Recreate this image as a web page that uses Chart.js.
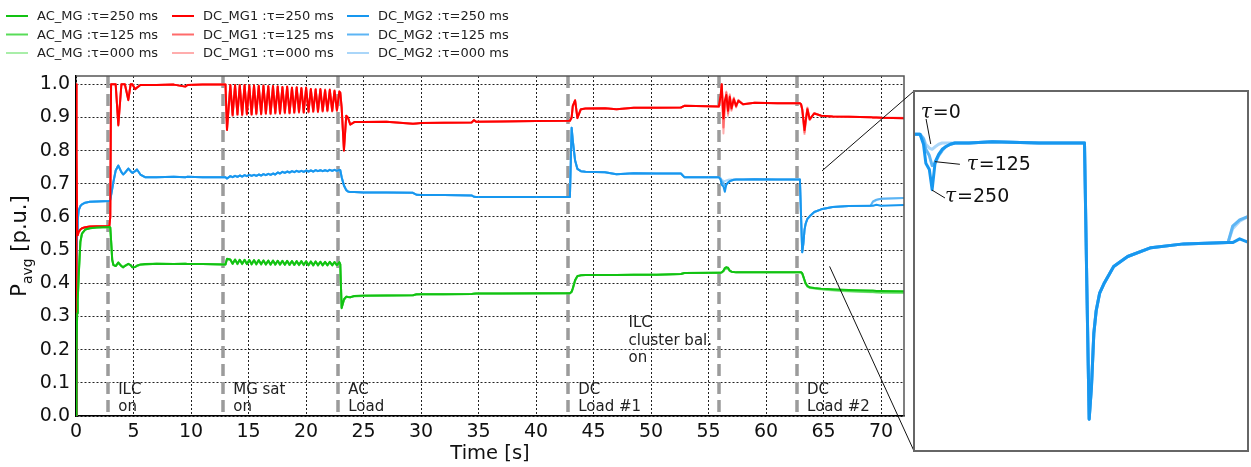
<!DOCTYPE html>
<html>
<head>
<meta charset="utf-8">
<script src="https://cdn.jsdelivr.net/npm/chart.js@4.4.1/dist/chart.umd.min.js"></script>
<style>
  html, body { margin: 0; padding: 0; background: #fff; }
  #wrap { position: relative; width: 1251px; height: 467px; overflow: hidden; background: #fff; }
  #main { position: absolute; left: 0; top: 0; width: 1251px; height: 467px; }
  #inset { position: absolute; left: 913px; top: 90px; width: 336px; height: 362px; }
</style>
</head>
<body>
<div id="wrap">
  <canvas id="main" width="1251" height="467"></canvas>
  <canvas id="inset" width="336" height="362"></canvas>
</div>
<script>
// ---- time base [s] shared by every trace ----
const TIME = [
  0, 0.03, 0.06, 0.1, 0.15, 0.23, 0.38, 0.52, 0.8, 1.2, 1.8, 2.9,
  2.98, 3.05, 3.15, 3.25, 3.45, 3.68, 3.95, 4.1, 4.25, 4.55, 4.75, 4.9, 5.15, 5.3, 5.6, 6.0,
  7, 8.5, 9.5, 9.7, 11, 12.9,
  13.0, 13.13,
  13.42, 13.62, 13.83, 14.04, 14.24, 14.45, 14.66, 14.86, 15.07, 15.27,
  15.48, 15.68, 15.89, 16.10, 16.30, 16.51, 16.72, 16.92, 17.13, 17.33,
  17.54, 17.74, 17.95, 18.16, 18.36, 18.57, 18.78, 18.98, 19.19, 19.39,
  19.60, 19.80, 20.01, 20.22, 20.42, 20.63, 20.84, 21.04, 21.25, 21.45,
  21.66, 21.86, 22.07, 22.28, 22.48, 22.69, 22.90,
  22.98, 23.1, 23.3, 23.5, 23.65, 23.85, 24.2, 25, 27, 29.3, 29.6, 30, 32, 34.4, 34.6, 34.8, 37, 40, 42.95,
  43.1, 43.2, 43.4, 43.6, 43.9, 44.3, 46, 47, 48.5, 50.5, 52.6, 52.9, 55.9,
  56.05, 56.15, 56.3, 56.42, 56.55, 56.7, 56.85, 57.0, 57.2, 57.4, 57.6, 58, 59, 61, 62.95,
  63.05, 63.15, 63.25, 63.35, 63.45, 63.6, 63.8, 64.2, 64.8, 65.8, 67.2, 69.1, 69.3, 69.6, 70, 72
];

// ---- AC_MG average power [p.u.] ----
const AC_250 = [
  0, 0.05, 0.2, 0.31, 0.35, 0.42, 0.525, 0.55, 0.562, 0.566, 0.568, 0.57,
  0.568, 0.53, 0.47, 0.455, 0.452, 0.463, 0.452, 0.448, 0.452, 0.459, 0.455, 0.448, 0.449, 0.453, 0.457, 0.458,
  0.459, 0.458, 0.459, 0.458, 0.458, 0.457,
  0.457, 0.474,
  0.472, 0.459, 0.472, 0.459, 0.471, 0.459, 0.471, 0.458, 0.470, 0.458,
  0.470, 0.458, 0.470, 0.458, 0.469, 0.457, 0.469, 0.457, 0.469, 0.457,
  0.468, 0.457, 0.468, 0.456, 0.468, 0.456, 0.467, 0.456, 0.467, 0.456,
  0.467, 0.456, 0.466, 0.455, 0.466, 0.455, 0.466, 0.455, 0.465, 0.455,
  0.465, 0.455, 0.465, 0.455, 0.464, 0.455, 0.464,
  0.458, 0.325, 0.352, 0.36, 0.359, 0.358, 0.362, 0.363, 0.363, 0.364, 0.367, 0.367, 0.367, 0.368, 0.369, 0.369, 0.369, 0.37, 0.37,
  0.375, 0.385, 0.41, 0.422, 0.424, 0.425, 0.425, 0.425, 0.426, 0.426, 0.428, 0.431, 0.432,
  0.432, 0.433, 0.438, 0.446, 0.449, 0.447, 0.438, 0.435, 0.434, 0.433, 0.433, 0.433, 0.433, 0.433, 0.433,
  0.433, 0.43, 0.42, 0.41, 0.40, 0.392, 0.388, 0.386, 0.384, 0.382, 0.38, 0.378, 0.378, 0.377, 0.377, 0.376
];
const AC_125 = [
  0, 0.05, 0.2, 0.31, 0.35, 0.42, 0.525, 0.55, 0.562, 0.566, 0.568, 0.57,
  0.568, 0.53, 0.472, 0.456, 0.452, 0.461, 0.452, 0.449, 0.453, 0.458, 0.455, 0.449, 0.449, 0.453, 0.456, 0.457,
  0.459, 0.458, 0.459, 0.458, 0.458, 0.457,
  0.457, 0.473,
  0.471, 0.459, 0.471, 0.458, 0.471, 0.458, 0.470, 0.458, 0.470, 0.457,
  0.469, 0.457, 0.469, 0.457, 0.469, 0.457, 0.468, 0.456, 0.468, 0.456,
  0.468, 0.456, 0.467, 0.456, 0.467, 0.455, 0.467, 0.455, 0.466, 0.455,
  0.466, 0.455, 0.466, 0.455, 0.465, 0.454, 0.465, 0.454, 0.465, 0.454,
  0.464, 0.454, 0.464, 0.454, 0.464, 0.454, 0.463,
  0.457, 0.327, 0.35, 0.359, 0.359, 0.358, 0.361, 0.362, 0.363, 0.364, 0.366, 0.367, 0.367, 0.368, 0.368, 0.369, 0.369, 0.369, 0.37,
  0.374, 0.384, 0.408, 0.421, 0.424, 0.425, 0.425, 0.425, 0.426, 0.426, 0.428, 0.431, 0.432,
  0.432, 0.433, 0.437, 0.444, 0.446, 0.445, 0.438, 0.435, 0.434, 0.433, 0.433, 0.433, 0.433, 0.433, 0.433,
  0.433, 0.43, 0.42, 0.409, 0.399, 0.391, 0.387, 0.385, 0.383, 0.38, 0.377, 0.374, 0.374, 0.373, 0.372, 0.372
];
const AC_000 = [
  0, 0.05, 0.2, 0.31, 0.35, 0.42, 0.525, 0.55, 0.562, 0.566, 0.568, 0.57,
  0.568, 0.53, 0.472, 0.456, 0.452, 0.461, 0.452, 0.449, 0.453, 0.458, 0.455, 0.449, 0.449, 0.453, 0.456, 0.457,
  0.459, 0.458, 0.459, 0.458, 0.458, 0.457,
  0.457, 0.473,
  0.471, 0.459, 0.471, 0.458, 0.471, 0.458, 0.470, 0.458, 0.470, 0.457,
  0.469, 0.457, 0.469, 0.457, 0.469, 0.457, 0.468, 0.456, 0.468, 0.456,
  0.468, 0.456, 0.467, 0.456, 0.467, 0.455, 0.467, 0.455, 0.466, 0.455,
  0.466, 0.455, 0.466, 0.455, 0.465, 0.454, 0.465, 0.454, 0.465, 0.454,
  0.464, 0.454, 0.464, 0.454, 0.464, 0.454, 0.463,
  0.457, 0.327, 0.35, 0.359, 0.359, 0.358, 0.361, 0.362, 0.363, 0.364, 0.366, 0.367, 0.367, 0.368, 0.368, 0.369, 0.369, 0.369, 0.37,
  0.374, 0.384, 0.408, 0.421, 0.424, 0.425, 0.425, 0.425, 0.426, 0.426, 0.428, 0.431, 0.432,
  0.432, 0.433, 0.436, 0.442, 0.444, 0.443, 0.437, 0.435, 0.434, 0.433, 0.433, 0.433, 0.433, 0.433, 0.433,
  0.433, 0.43, 0.419, 0.408, 0.398, 0.39, 0.386, 0.384, 0.381, 0.378, 0.375, 0.373, 0.373, 0.372, 0.372, 0.371
];

// ---- DC_MG1 average power [p.u.] ----
const DC1_250 = [
  0, 1.0, 0.8, 0.55, 0.545, 0.555, 0.562, 0.566, 0.569, 0.571, 0.572, 0.572,
  0.60, 1.0, 1.0, 1.0, 1.0, 0.876, 1.0, 1.0, 1.0, 0.952, 1.0, 1.0, 0.985, 0.99, 0.998, 0.998,
  0.998, 0.999, 0.993, 0.998, 0.999, 0.999,
  0.999, 0.862,
  0.998, 0.908, 0.998, 0.910, 0.997, 0.909, 0.998, 0.911, 0.996, 0.910,
  0.997, 0.912, 0.995, 0.911, 0.996, 0.913, 0.994, 0.912, 0.995, 0.914,
  0.993, 0.913, 0.992, 0.915, 0.993, 0.914, 0.990, 0.916, 0.991, 0.917,
  0.989, 0.916, 0.990, 0.918, 0.986, 0.919, 0.984, 0.918, 0.986, 0.920,
  0.982, 0.921, 0.984, 0.920, 0.980, 0.922, 0.978,
  0.975, 0.93, 0.80, 0.905, 0.90, 0.878, 0.886, 0.886, 0.887, 0.881, 0.882, 0.883, 0.884, 0.885, 0.892, 0.887, 0.888, 0.889, 0.89,
  0.90, 0.935, 0.952, 0.898, 0.925, 0.927, 0.928, 0.925, 0.929, 0.929, 0.93, 0.935, 0.933,
  0.965, 1.0, 0.897, 0.95, 0.968, 0.92, 0.962, 0.928, 0.955, 0.935, 0.95, 0.94, 0.944, 0.943, 0.943,
  0.94, 0.925, 0.895, 0.862, 0.89, 0.925, 0.895, 0.912, 0.905, 0.903, 0.902, 0.901, 0.9, 0.9, 0.899, 0.898
];
const DC1_125 = [
  0, 1.0, 0.8, 0.55, 0.545, 0.555, 0.562, 0.566, 0.569, 0.571, 0.572, 0.572,
  0.60, 1.0, 1.0, 1.0, 1.0, 0.88, 1.0, 1.0, 1.0, 0.955, 1.0, 1.0, 0.986, 0.99, 0.998, 0.998,
  0.998, 0.999, 0.993, 0.998, 0.999, 0.999,
  0.999, 0.865,
  0.997, 0.905, 0.996, 0.908, 0.998, 0.906, 0.996, 0.909, 0.997, 0.908,
  0.995, 0.910, 0.996, 0.909, 0.994, 0.911, 0.995, 0.910, 0.993, 0.912,
  0.994, 0.911, 0.991, 0.913, 0.992, 0.912, 0.989, 0.914, 0.990, 0.915,
  0.987, 0.914, 0.988, 0.916, 0.985, 0.917, 0.986, 0.916, 0.983, 0.918,
  0.984, 0.919, 0.981, 0.918, 0.982, 0.920, 0.979,
  0.975, 0.93, 0.805, 0.905, 0.898, 0.88, 0.886, 0.886, 0.887, 0.881, 0.882, 0.883, 0.884, 0.885, 0.891, 0.887, 0.888, 0.889, 0.89,
  0.90, 0.935, 0.95, 0.90, 0.924, 0.927, 0.928, 0.925, 0.929, 0.929, 0.93, 0.935, 0.933,
  0.96, 1.0, 0.87, 0.94, 0.975, 0.912, 0.966, 0.924, 0.958, 0.932, 0.952, 0.94, 0.944, 0.943, 0.943,
  0.94, 0.925, 0.89, 0.855, 0.885, 0.928, 0.893, 0.913, 0.905, 0.903, 0.902, 0.901, 0.9, 0.9, 0.899, 0.898
];
const DC1_000 = [
  0, 1.0, 0.8, 0.55, 0.545, 0.555, 0.562, 0.566, 0.569, 0.571, 0.572, 0.572,
  0.60, 1.0, 1.0, 1.0, 1.0, 0.878, 1.0, 1.0, 1.0, 0.954, 1.0, 1.0, 0.986, 0.99, 0.998, 0.998,
  0.998, 0.999, 0.993, 0.998, 0.999, 0.999,
  0.999, 0.864,
  0.998, 0.906, 0.997, 0.907, 0.996, 0.908, 0.997, 0.908, 0.995, 0.909,
  0.996, 0.909, 0.994, 0.910, 0.995, 0.910, 0.993, 0.911, 0.994, 0.911,
  0.992, 0.912, 0.991, 0.912, 0.992, 0.913, 0.989, 0.913, 0.990, 0.914,
  0.988, 0.915, 0.988, 0.915, 0.985, 0.916, 0.984, 0.917, 0.984, 0.917,
  0.981, 0.918, 0.982, 0.919, 0.979, 0.919, 0.977,
  0.975, 0.93, 0.803, 0.905, 0.899, 0.879, 0.886, 0.886, 0.887, 0.881, 0.882, 0.883, 0.884, 0.885, 0.891, 0.887, 0.888, 0.889, 0.89,
  0.90, 0.935, 0.951, 0.899, 0.925, 0.927, 0.928, 0.925, 0.929, 0.929, 0.93, 0.935, 0.933,
  0.955, 0.995, 0.852, 0.93, 0.978, 0.905, 0.97, 0.92, 0.96, 0.93, 0.953, 0.939, 0.944, 0.943, 0.943,
  0.94, 0.922, 0.885, 0.85, 0.888, 0.93, 0.892, 0.913, 0.905, 0.903, 0.902, 0.901, 0.9, 0.9, 0.9, 0.899
];

// ---- DC_MG2 average power [p.u.] ----
const DC2_250 = [
  0, 0.2, 0.45, 0.56, 0.59, 0.62, 0.633, 0.638, 0.643, 0.646, 0.647, 0.648,
  0.652, 0.665, 0.685, 0.705, 0.74, 0.755, 0.735, 0.728, 0.733, 0.746, 0.738, 0.733, 0.738, 0.743, 0.728, 0.72,
  0.72, 0.721, 0.72, 0.721, 0.72, 0.72,
  0.72, 0.716,
  0.723, 0.720, 0.724, 0.721, 0.725, 0.722, 0.726, 0.723, 0.727, 0.724,
  0.727, 0.724, 0.728, 0.725, 0.729, 0.726, 0.730, 0.727, 0.731, 0.728,
  0.734, 0.731, 0.736, 0.733, 0.737, 0.734, 0.738, 0.735, 0.739, 0.736,
  0.739, 0.736, 0.740, 0.737, 0.740, 0.737, 0.741, 0.738, 0.741, 0.738,
  0.741, 0.738, 0.742, 0.739, 0.742, 0.739, 0.742,
  0.741, 0.72, 0.695, 0.681, 0.677, 0.675, 0.675, 0.674, 0.674, 0.673, 0.667, 0.666, 0.666, 0.665, 0.661, 0.66, 0.66, 0.66, 0.66,
  0.869, 0.83, 0.77, 0.745, 0.738, 0.736, 0.735, 0.729, 0.732, 0.731, 0.731, 0.72, 0.72,
  0.712, 0.697, 0.692, 0.676, 0.698, 0.704, 0.708, 0.71, 0.712, 0.713, 0.713, 0.713, 0.714, 0.713, 0.713,
  0.60, 0.494, 0.52, 0.562, 0.58, 0.594, 0.602, 0.615, 0.623, 0.63, 0.633, 0.634, 0.634, 0.637, 0.634, 0.636
];
const DC2_125 = [
  0, 0.2, 0.45, 0.56, 0.59, 0.62, 0.633, 0.638, 0.643, 0.646, 0.647, 0.648,
  0.652, 0.665, 0.685, 0.705, 0.74, 0.755, 0.735, 0.728, 0.733, 0.746, 0.738, 0.733, 0.738, 0.743, 0.728, 0.72,
  0.72, 0.721, 0.72, 0.721, 0.72, 0.72,
  0.72, 0.716,
  0.723, 0.720, 0.724, 0.721, 0.725, 0.722, 0.726, 0.723, 0.727, 0.724,
  0.727, 0.724, 0.728, 0.725, 0.729, 0.726, 0.730, 0.727, 0.731, 0.728,
  0.734, 0.731, 0.736, 0.733, 0.737, 0.734, 0.738, 0.735, 0.739, 0.736,
  0.739, 0.736, 0.740, 0.737, 0.740, 0.737, 0.741, 0.738, 0.741, 0.738,
  0.741, 0.738, 0.742, 0.739, 0.742, 0.739, 0.742,
  0.741, 0.72, 0.695, 0.681, 0.677, 0.675, 0.675, 0.674, 0.674, 0.673, 0.667, 0.666, 0.666, 0.665, 0.661, 0.66, 0.66, 0.66, 0.66,
  0.869, 0.83, 0.77, 0.745, 0.738, 0.736, 0.735, 0.729, 0.732, 0.731, 0.731, 0.72, 0.72,
  0.716, 0.708, 0.703, 0.695, 0.697, 0.703, 0.707, 0.71, 0.712, 0.713, 0.713, 0.713, 0.714, 0.713, 0.713,
  0.60, 0.494, 0.52, 0.562, 0.58, 0.594, 0.602, 0.615, 0.623, 0.63, 0.633, 0.634, 0.647, 0.652, 0.655, 0.657
];
const DC2_000 = [
  0, 0.2, 0.45, 0.56, 0.59, 0.62, 0.633, 0.638, 0.643, 0.646, 0.647, 0.648,
  0.652, 0.665, 0.685, 0.705, 0.74, 0.755, 0.735, 0.728, 0.733, 0.746, 0.738, 0.733, 0.738, 0.743, 0.728, 0.72,
  0.72, 0.721, 0.72, 0.721, 0.72, 0.72,
  0.72, 0.716,
  0.723, 0.720, 0.724, 0.721, 0.725, 0.722, 0.726, 0.723, 0.727, 0.724,
  0.727, 0.724, 0.728, 0.725, 0.729, 0.726, 0.730, 0.727, 0.731, 0.728,
  0.734, 0.731, 0.736, 0.733, 0.737, 0.734, 0.738, 0.735, 0.739, 0.736,
  0.739, 0.736, 0.740, 0.737, 0.740, 0.737, 0.741, 0.738, 0.741, 0.738,
  0.741, 0.738, 0.742, 0.739, 0.742, 0.739, 0.742,
  0.741, 0.72, 0.695, 0.681, 0.677, 0.675, 0.675, 0.674, 0.674, 0.673, 0.667, 0.666, 0.666, 0.665, 0.661, 0.66, 0.66, 0.66, 0.66,
  0.869, 0.83, 0.77, 0.745, 0.738, 0.736, 0.735, 0.729, 0.732, 0.731, 0.731, 0.72, 0.72,
  0.717, 0.712, 0.709, 0.708, 0.71, 0.712, 0.713, 0.713, 0.713, 0.713, 0.713, 0.713, 0.714, 0.713, 0.713,
  0.60, 0.494, 0.52, 0.562, 0.58, 0.594, 0.602, 0.615, 0.623, 0.63, 0.633, 0.634, 0.645, 0.651, 0.655, 0.657
];

// ---- axes, events, labels ----
const X_TICKS = [0, 5, 10, 15, 20, 25, 30, 35, 40, 45, 50, 55, 60, 65, 70];
const Y_TICKS = [0, 0.1, 0.2, 0.3, 0.4, 0.5, 0.6, 0.7, 0.8, 0.9, 1.0];
const EVENT_TIMES = [2.8, 12.8, 22.8, 42.8, 55.9, 62.7];
const EVENT_NOTES = [
  { t: 2.8,  lines: ['ILC', 'on'] },
  { t: 12.8, lines: ['MG sat', 'on'] },
  { t: 22.8, lines: ['AC', 'Load'] },
  { t: 42.8, lines: ['DC', 'Load #1'] },
  { t: 62.7, lines: ['DC', 'Load #2'] }
];
const FREE_NOTE = { t: 48.05, v: 0.267, lines: ['ILC', 'cluster bal.', 'on'] };
const MG_NAMES = ['AC_MG', 'DC_MG1', 'DC_MG2'];
const TAU_TAGS = ['250', '125', '000'];
const ZOOM_SOURCE = [[64.87, 0.739], [65.53, 0.451]];
const TAU_NOTES = [
  { tag: '0',   at: [55.93, 0.7368], from: [56.16, 0.732],  to: [56.36, 0.7122] },
  { tag: '125', at: [57.90, 0.6955], from: [57.61, 0.6961], to: [56.54, 0.6982] },
  { tag: '250', at: [56.97, 0.6704], from: [56.97, 0.6694], to: [56.41, 0.6757] }
];

const SERIES_VALUES = [[AC_250, AC_125, AC_000], [DC1_250, DC1_125, DC1_000], [DC2_250, DC2_125, DC2_000]];
const PALETTE = [
  ['#12c212', '#58dc58', '#a9eea9'],
  ['#ff0000', '#ff6b6b', '#ffadad'],
  ['#1797ef', '#5db5f4', '#aad6f9']
];
const FONT = '"DejaVu Sans", Verdana, sans-serif';

function points(values) {
  return TIME.map((t, i) => ({ x: t, y: values[i] }));
}

function buildDatasets(mgList, width) {
  const out = [];
  for (let k = 0; k < TAU_TAGS.length; k++) {
    for (const m of mgList) {
      out.push({
        label: MG_NAMES[m] + ' :\u03c4=' + TAU_TAGS[k] + ' ms',
        mg: m, tau: k,
        data: points(SERIES_VALUES[m][k]),
        borderColor: PALETTE[m][k],
        backgroundColor: PALETTE[m][k],
        borderWidth: width,
        pointRadius: 0,
        order: k
      });
    }
  }
  return out;
}

const INSET_BOX = { left: 913, top: 90, width: 336, height: 362 };

const mainDecor = {
  id: 'mainDecor',
  beforeDatasetsDraw(chart) {
    const { ctx, chartArea: a, scales: { x } } = chart;
    ctx.save();
    ctx.beginPath();
    ctx.rect(a.left, a.top, a.right - a.left, a.bottom - a.top);
    ctx.clip();
    ctx.strokeStyle = '#9b9b9b';
    ctx.lineWidth = 3.5;
    ctx.setLineDash([12, 6]);
    EVENT_TIMES.forEach(t => {
      const px = Math.round(x.getPixelForValue(t));
      ctx.beginPath();
      ctx.moveTo(px, a.top);
      ctx.lineTo(px, a.bottom);
      ctx.stroke();
    });
    ctx.restore();
  },
  afterDatasetsDraw(chart) {
    const { ctx, chartArea: a, scales: { x, y } } = chart;
    ctx.save();
    // frame on the top and right
    ctx.strokeStyle = '#555';
    ctx.lineWidth = 1.5;
    ctx.beginPath();
    ctx.moveTo(a.left, a.top);
    ctx.lineTo(a.right, a.top);
    ctx.lineTo(a.right, a.bottom);
    ctx.stroke();

    // event annotations
    ctx.fillStyle = '#222';
    ctx.font = '15px ' + FONT;
    ctx.textAlign = 'left';
    ctx.textBaseline = 'alphabetic';
    const base = y.getPixelForValue(0.067);
    EVENT_NOTES.forEach(n => {
      const px = x.getPixelForValue(n.t) + 10;
      n.lines.forEach((s, i) => ctx.fillText(s, px, base + i * 17.5));
    });
    const fx = x.getPixelForValue(FREE_NOTE.t);
    const fy = y.getPixelForValue(FREE_NOTE.v);
    FREE_NOTE.lines.forEach((s, i) => ctx.fillText(s, fx, fy + i * 17.5));
    ctx.restore();
  },
  afterDraw(chart) {
    const { ctx, chartArea: a, scales: { x, y } } = chart;
    ctx.save();
    // legend, three columns
    const colX = [6, 172, 347];
    const rowY = [16, 34.5, 53];
    ctx.font = '13px ' + FONT;
    ctx.textBaseline = 'middle';
    ctx.textAlign = 'left';
    chart.data.datasets.forEach(ds => {
      const lx = colX[ds.mg], ly = rowY[ds.tau];
      ctx.strokeStyle = ds.borderColor;
      ctx.lineWidth = 2;
      ctx.beginPath();
      ctx.moveTo(lx, ly);
      ctx.lineTo(lx + 22, ly);
      ctx.stroke();
      ctx.fillStyle = '#222';
      ctx.fillText(ds.label, lx + 31, ly + 1);
    });

    // axis titles
    ctx.fillStyle = '#111';
    ctx.font = '19.5px ' + FONT;
    ctx.textAlign = 'center';
    ctx.textBaseline = 'middle';
    ctx.fillText('Time [s]', (a.left + a.right) / 2, 454);

    ctx.save();
    ctx.translate(21, (a.top + a.bottom) / 2);
    ctx.rotate(-Math.PI / 2);
    const big = '21px ' + FONT, small = '14px ' + FONT;
    ctx.font = big; const wP = ctx.measureText('P').width;
    const wRest = ctx.measureText(' [p.u.]').width;
    ctx.font = small; const wSub = ctx.measureText('avg').width;
    let cx = -(wP + wSub + wRest) / 2;
    ctx.textAlign = 'left';
    ctx.font = big; ctx.fillText('P', cx, 0); cx += wP;
    ctx.font = small; ctx.fillText('avg', cx, 7); cx += wSub;
    ctx.font = big; ctx.fillText(' [p.u.]', cx, 0);
    ctx.restore();

    // connectors to the magnified view
    const ends = [[INSET_BOX.left + 1, INSET_BOX.top + 1], [INSET_BOX.left + 1, INSET_BOX.top + INSET_BOX.height - 1]];
    ctx.strokeStyle = '#111';
    ctx.lineWidth = 1;
    ZOOM_SOURCE.forEach((p, i) => {
      ctx.beginPath();
      ctx.moveTo(x.getPixelForValue(p[0]), y.getPixelForValue(p[1]));
      ctx.lineTo(ends[i][0], ends[i][1]);
      ctx.stroke();
    });
    ctx.restore();
  }
};

const tickFont = { family: FONT, size: 19 };

new Chart(document.getElementById('main'), {
  type: 'line',
  data: { datasets: buildDatasets([0, 1, 2], 2) },
  options: {
    responsive: false,
    animation: false,
    devicePixelRatio: 1,
    layout: { padding: { left: 0, top: 76, right: 347, bottom: 0 } },
    plugins: { legend: { display: false }, tooltip: { enabled: false } },
    elements: { line: { tension: 0, borderJoinStyle: 'round' }, point: { radius: 0 } },
    scales: {
      x: {
        type: 'linear', min: 0, max: 72,
        afterBuildTicks: s => { s.ticks = X_TICKS.map(v => ({ value: v })); },
        afterFit: s => { s.height = 51; },
        grid: { color: '#222', lineWidth: 1, drawTicks: false },
        border: { display: true, color: '#000', width: 1.5, dash: [2, 2] },
        ticks: { font: tickFont, color: '#111', padding: 5, maxRotation: 0, autoSkip: false,
                 callback: v => String(v) }
      },
      y: {
        type: 'linear', min: 0, max: 1.025,
        afterBuildTicks: s => { s.ticks = Y_TICKS.map(v => ({ value: v })); },
        afterFit: s => { s.width = 76; },
        grid: { color: '#222', lineWidth: 1, drawTicks: false },
        border: { display: true, color: '#000', width: 1.5, dash: [2, 2] },
        ticks: { font: tickFont, color: '#111', padding: 6, autoSkip: false,
                 callback: v => Number(v).toFixed(1) }
      }
    }
  },
  plugins: [mainDecor]
});

const insetDecor = {
  id: 'insetDecor',
  afterDraw(chart) {
    const { ctx, width, height, scales: { x, y } } = chart;
    ctx.save();
    ctx.strokeStyle = '#666';
    ctx.lineWidth = 2;
    ctx.strokeRect(1, 1, width - 2, height - 2);

    ctx.strokeStyle = '#111';
    ctx.lineWidth = 1;
    ctx.fillStyle = '#111';
    ctx.textBaseline = 'middle';
    ctx.textAlign = 'left';
    TAU_NOTES.forEach(n => {
      ctx.beginPath();
      ctx.moveTo(x.getPixelForValue(n.from[0]), y.getPixelForValue(n.from[1]));
      ctx.lineTo(x.getPixelForValue(n.to[0]), y.getPixelForValue(n.to[1]));
      ctx.stroke();
      let lx = x.getPixelForValue(n.at[0]);
      const ly = y.getPixelForValue(n.at[1]);
      ctx.font = 'italic 20px "DejaVu Serif", serif';
      ctx.fillText('\u03c4', lx, ly);
      lx += ctx.measureText('\u03c4').width + 1;
      ctx.font = '19px ' + FONT;
      ctx.fillText('=' + n.tag, lx, ly);
    });
    ctx.restore();
  }
};

new Chart(document.getElementById('inset'), {
  type: 'line',
  data: { datasets: buildDatasets([2], 3) },
  options: {
    responsive: false,
    animation: false,
    devicePixelRatio: 1,
    layout: { padding: 0 },
    plugins: { legend: { display: false }, tooltip: { enabled: false } },
    elements: { line: { tension: 0, borderJoinStyle: 'round' }, point: { radius: 0 } },
    scales: {
      x: { type: 'linear', min: 55.6, max: 70.0, display: false },
      y: { type: 'linear', min: 0.468, max: 0.755, display: false }
    }
  },
  plugins: [insetDecor]
});
</script>
</body>
</html>
